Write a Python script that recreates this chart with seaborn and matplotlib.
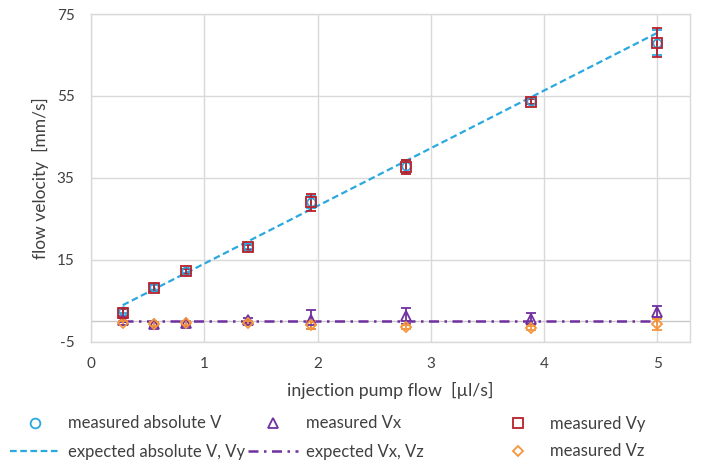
import pandas as pd
import seaborn as sns
import matplotlib.pyplot as plt
from matplotlib.lines import Line2D

# pump flow [ul/s]
flow = [0.278, 0.556, 0.833, 1.389, 1.944, 2.778, 3.889, 5.0]

# measured velocities [mm/s] and their errors
v_abs = [2.6, 8.3, 12.3, 18.2, 29.1, 37.8, 53.7, 68.0]
v_abs_err = [0.6, 0.6, 0.5, 0.6, 1.5, 1.5, 0.6, 3.0]
v_x = [0.3, -0.8, -0.5, 0.2, 0.4, 1.3, 0.6, 2.3]
v_x_err = [0.5, 0.6, 0.6, 0.6, 2.3, 2.0, 1.3, 1.5]
v_y = [2.1, 8.2, 12.2, 18.1, 29.0, 37.7, 53.6, 68.0]
v_y_err = [0.8, 0.8, 0.6, 0.6, 2.0, 1.7, 0.6, 3.5]
v_z = [-0.4, -0.6, -0.5, -0.5, -0.9, -1.5, -1.7, -0.8]
v_z_err = [0.5, 0.5, 0.5, 0.5, 0.9, 0.5, 0.5, 1.3]

# expected curves
exp_flow = [0.278, 5.0]
exp_abs = [3.9, 70.4]
exp_x = [0.0, 0.0]

cyan = '#2aa8e0'
purple = '#7030a0'
red = '#b8202c'
orange = '#f5963c'
grid = '#d9d9d9'
txt = '#404040'

sns.set_style('whitegrid')
plt.rcParams['font.family'] = ['Lato', 'DejaVu Sans']
plt.rcParams['axes.unicode_minus'] = False

fig = plt.figure(figsize=(7.02, 4.68), dpi=100)
ax = fig.add_axes([0.13, 0.27, 0.853, 0.70])

dash_abs = (0, (3, 1.6))
dash_x = (0, (4, 2.2, 1, 2.2))

exp_df = pd.DataFrame({'flow': exp_flow, 'abs': exp_abs, 'x': exp_x})
ax.axhline(0, color='#c8c8c8', lw=1.0, zorder=1)
sns.lineplot(data=exp_df, x='flow', y='abs', ax=ax, color=cyan, lw=1.6,
             linestyle=dash_abs, zorder=2)
sns.lineplot(data=exp_df, x='flow', y='x', ax=ax, color=purple, lw=1.8,
             linestyle=dash_x, zorder=2)

def meas(y, err, marker, color, ms=7):
    ax.errorbar(flow, y, yerr=err, fmt=marker, mfc='none', mec=color,
                ecolor=color, mew=1.3, ms=ms, elinewidth=1.3, capsize=3.5,
                capthick=1.3, zorder=3)

meas(v_abs, v_abs_err, 'o', cyan, ms=6)
meas(v_x, v_x_err, '^', purple, ms=7)
meas(v_z, v_z_err, 'D', orange, ms=5.5)
meas(v_y, v_y_err, 's', red, ms=7)

ax.set_xlim(0, 5.29)
ax.set_ylim(-5, 75)
ax.set_xticks(range(0, 6))
ax.set_yticks([-5, 15, 35, 55, 75])
ax.set_xlabel('')
ax.set_ylabel('')
for s in ax.spines.values():
    s.set_color(grid)
    s.set_linewidth(1.0)
ax.grid(color=grid, lw=1.0)
ax.tick_params(labelsize=11, colors=txt, length=0)
ax.tick_params(axis='y', pad=12)
ax.tick_params(axis='x', pad=11)
ax.set_xlabel('injection pump flow  [µl/s]', fontsize=12.8, color=txt, labelpad=8)
ax.set_ylabel('flow velocity  [mm/s]', fontsize=12.5, color=txt, labelpad=6)

def mk(marker, color, ms):
    return Line2D([], [], ls='none', marker=marker, mfc='none', mec=color,
                  mew=1.3, ms=ms)

columns = [
    ([mk('o', cyan, 7), Line2D([], [], color=cyan, lw=1.6, ls=dash_abs)],
     ['measured absolute V', 'expected absolute V, Vy'], 10),
    ([mk('^', purple, 7), Line2D([], [], color=purple, lw=1.8, ls=dash_x)],
     ['measured Vx', 'expected Vx, Vz'], 248),
    ([mk('s', red, 7), mk('D', orange, 5.5)],
     ['measured Vy', 'measured Vz'], 493),
]
for hs, ls, x0 in columns:
    leg = fig.legend(hs, ls, loc='center left', bbox_to_anchor=(x0 / 702, 1 - 437.5 / 468),
                     frameon=False, fontsize=12, labelcolor=txt, handlelength=3.0,
                     handletextpad=0.45, labelspacing=0.72, borderpad=0,
                     borderaxespad=0)

fig.savefig('out.png', dpi=100)
